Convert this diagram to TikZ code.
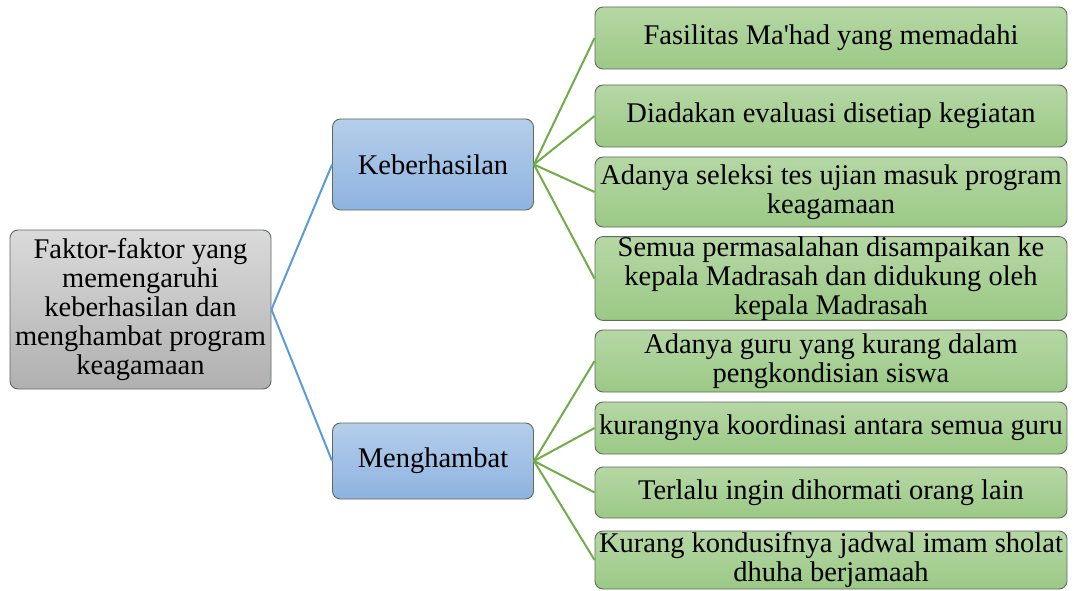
\documentclass[tikz,border=0pt]{standalone}
\usepackage{fontspec}
\setmainfont{Liberation Serif}
\definecolor{grayT}{HTML}{DADADA}
\definecolor{grayB}{HTML}{B0B0B0}
\definecolor{blueT}{HTML}{B5CEEA}
\definecolor{blueB}{HTML}{8EB3E0}
\definecolor{greenT}{HTML}{B6D7A5}
\definecolor{greenB}{HTML}{9BC985}
\definecolor{edgeC}{HTML}{5F6B5F}
\definecolor{lineBlue}{HTML}{5B9BD5}
\definecolor{lineGreen}{HTML}{70AD47}
\tikzset{
  box/.style={draw=edgeC, line width=0.9pt, rounded corners=8pt, align=center, inner sep=0pt,
    font=\fontsize{28.5}{29}\selectfont},
  rootbox/.style={box, top color=grayT, bottom color=grayB, minimum width=261, minimum height=159},
  midbox/.style={box, top color=blueT, bottom color=blueB, minimum width=201},
  leafbox/.style={box, top color=greenT, bottom color=greenB, minimum width=472},
  blueline/.style={draw=lineBlue, line width=2pt},
  greenline/.style={draw=lineGreen, line width=2pt},
}
\begin{document}
\begin{tikzpicture}[x=1pt,y=-1pt]
\useasboundingbox (0,0) rectangle (1074,591);
\node[rootbox] (root) at (140.5,309.5) {Faktor-faktor yang\\memengaruhi\\keberhasilan dan\\menghambat program\\keagamaan};
\node[midbox, minimum height=91] (keb) at (433,164.5) {Keberhasilan};
\node[midbox, minimum height=76] (men) at (433,461) {Menghambat};
\node[leafbox, minimum height=62] (l1) at (831,38) {Fasilitas Ma\textquotesingle had yang memadahi};
\node[leafbox, minimum height=62] (l2) at (831,116) {Diadakan evaluasi disetiap kegiatan};
\node[leafbox, minimum height=70] (l3) at (831,192) {Adanya seleksi tes ujian masuk program\\keagamaan};
\node[leafbox, minimum height=79] (l4) at (831,278.5) {Semua permasalahan disampaikan ke\\kepala Madrasah dan didukung oleh\\kepala Madrasah};
\node[leafbox, minimum height=62] (l5) at (831,361) {Adanya guru yang kurang dalam\\pengkondisian siswa};
\node[leafbox, minimum height=52] (l6) at (831,428) {kurangnya koordinasi antara semua guru};
\node[leafbox, minimum height=51] (l7) at (831,492.5) {Terlalu ingin dihormati orang lain};
\node[leafbox, minimum height=58] (l8) at (831,560) {Kurang kondusifnya jadwal imam sholat\\dhuha berjamaah};
\draw[blueline] (root.east) -- (keb.west);
\draw[blueline] (root.east) -- (men.west);
\foreach \n in {l1,l2,l3,l4} \draw[greenline] (keb.east) -- (\n.west);
\foreach \n in {l5,l6,l7,l8} \draw[greenline] (men.east) -- (\n.west);
\end{tikzpicture}
\end{document}
